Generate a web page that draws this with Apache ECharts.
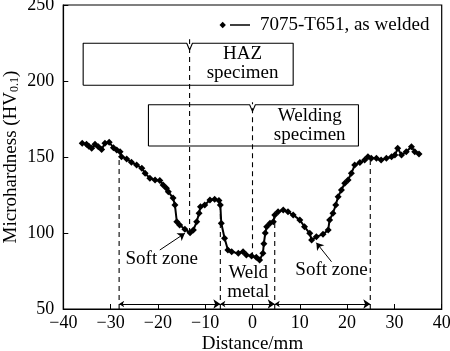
<!DOCTYPE html>
<html><head><meta charset="utf-8">
<script src="https://cdn.jsdelivr.net/npm/echarts@6/dist/echarts.min.js"></script>
<style>html,body{margin:0;padding:0;background:#fff}#c{width:450px;height:351px}</style>
</head><body><div id="c"></div>
<script>
// ---- data ----
const distance = [-36.0,-35.1,-34.6,-34.0,-33.3,-32.6,-31.9,-31.2,-30.3,-29.4,-28.7,-28.0,-27.7,-26.6,-25.6,-24.5,-23.4,-22.7,-21.7,-20.6,-19.6,-18.9,-18.2,-17.8,-16.8,-16.4,-16.0,-15.4,-14.3,-13.2,-12.5,-11.8,-11.3,-11.0,-10.1,-9.0,-8.0,-7.1,-6.8,-6.6,-5.9,-5.2,-4.4,-3.0,-2.0,-1.3,-0.2,0.8,1.5,2.2,2.4,2.7,3.0,3.7,4.4,4.7,5.4,6.5,7.5,8.6,10.0,11.0,12.1,12.5,13.5,14.9,16.0,16.3,17.0,17.6,18.1,18.8,19.5,20.2,20.9,21.6,22.7,23.7,24.4,25.1,26.2,27.2,28.3,29.4,30.1,30.7,31.5,32.5,33.6,34.3,35.2];
const hardness = [159,158.4,157,155.7,158.4,156.8,155,159,159.7,156.1,154.6,153.5,150.2,148.7,146.5,144.7,142.6,139.3,136,134.9,134.5,131.6,129.4,127.2,123,118.4,107.4,105.3,102.4,100.2,102,107.4,113,117.3,118.4,121.7,122.2,121.3,118.4,106.4,96.5,88.8,87.7,86.6,87.7,85.5,84.9,84.0,82.2,86.6,93,100,104.1,106.4,107.4,111.8,114,115.1,114,111.8,108.6,104.1,99.8,95.4,97.6,99.1,102,108.6,113,118.4,123.9,128.3,132.7,134.9,139.3,144.7,146.3,148,150.2,149.1,149.1,148,149.1,150.2,151.3,155.7,151.3,153.5,156.8,153.5,152];
const xTicks = [-40,-30,-20,-10,0,10,20,30,40];
const yTicks = [50,100,150,200,250];
const seriesName = '7075-T651, as welded';

// zone boundaries (mm) and annotation anchors (data units)
const zoneX = [-28.2, -6.8, 4.7, 24.9];
const zoneTopY = [150, 118, 110, 149];
const specLines = [[-13.3, 100, 227.4], [0, 84, 186]];
const hazBox = [-35.8, 8.6, 197.2, 224.8];
const weldBox = [-22.0, 22.4, 157.2, 184.4];
const labels = [
  ['HAZ', -2.1, 217.6], ['specimen', -2.1, 205.5],
  ['Welding', 12.1, 177], ['specimen', 12.1, 164.5],
  ['Soft zone', -19.2, 82.7], ['Soft zone', 16.7, 75.7],
  ['Weld', -0.9, 73.5], ['metal', -0.9, 61]
];
const arrowY = 53.3;
const softArrows = [[[-19.6, 88.8], [-14.3, 99.8]], [[16.7, 81.1], [13.5, 93.6]]];

const FONT = 'Liberation Serif';
const BLACK = '#000';

function boxPts(b, nx) {
  const [x1, x2, y1, y2] = b;
  return [[x1,y1],[x1,y2],[nx-0.6,y2],[nx,y2-4.4],[nx+0.6,y2],[x2,y2],[x2,y1],[x1,y1]];
}
function plainLine(data, dashed) {
  return {type:'line', data, symbol:'none', silent:true, animation:false, z:1,
    lineStyle:{color:BLACK, width:1.1, type: dashed ? [5,4] : 'solid'}};
}

const series = [];
series.push({
  name: seriesName, type:'line', data: distance.map((d,i)=>[d, hardness[i]]),
  symbol:'diamond', symbolSize:7, showSymbol:true, animation:false, z:5,
  lineStyle:{color:BLACK, width:2}, itemStyle:{color:BLACK}
});
zoneX.forEach((x,i)=>series.push(plainLine([[x,50],[x,zoneTopY[i]]], true)));
specLines.forEach(s=>series.push(plainLine([[s[0],s[1]],[s[0],s[2]]], true)));
series.push(plainLine(boxPts(hazBox, specLines[0][0]), false));
series.push(plainLine(boxPts(weldBox, specLines[1][0]), false));
series.push({
  type:'lines', coordinateSystem:'cartesian2d', silent:true, animation:false,
  symbol:['arrow','arrow'], symbolSize:[5,7],
  lineStyle:{color:BLACK, width:1, opacity:1},
  data: [[zoneX[0],zoneX[1]],[zoneX[1],zoneX[2]],[zoneX[2],zoneX[3]]].map(p=>({coords:[[p[0],arrowY],[p[1],arrowY]]}))
});
series.push({
  type:'lines', coordinateSystem:'cartesian2d', silent:true, animation:false,
  symbol:['none','arrow'], symbolSize:[5,7],
  lineStyle:{color:BLACK, width:1, opacity:1},
  data: softArrows.map(a=>({coords:a}))
});
series.push({
  type:'scatter', symbolSize:0, silent:true, animation:false, z:6,
  itemStyle:{opacity:1, color:BLACK},
  data: labels.map(l=>({name:l[0], value:[l[1], l[2]]})),
  label:{show:true, position:'inside', formatter:p=>p.name, color:BLACK, opacity:1, fontFamily:FONT, fontSize:19, textBorderWidth:0}
});

const chart = echarts.init(document.getElementById('c'), null, {renderer:'canvas'});
chart.setOption({
  backgroundColor:'#fff',
  animation:false,
  grid:{left:63.3, right:8.3, top:5, bottom:42, show:true, borderColor:BLACK, borderWidth:1.2, backgroundColor:'transparent', containLabel:false, outerBoundsMode:'none'},
  graphic:[
    {type:'polygon', shape:{points:[[219.5,25],[222.7,21.8],[225.9,25],[222.7,28.2]]}, style:{fill:BLACK}, silent:true},
    {type:'line', shape:{x1:230, y1:25, x2:250, y2:25}, style:{stroke:BLACK, lineWidth:1.5}, silent:true},
    {type:'text', x:260, y:25, style:{text:seriesName, fill:BLACK, font:'19px "Liberation Serif"', textVerticalAlign:'middle', verticalAlign:'middle'}, silent:true}
  ],
  xAxis:{
    type:'value', min:xTicks[0], max:xTicks[xTicks.length-1], interval:xTicks[1]-xTicks[0],
    name:'Distance/mm', nameLocation:'middle', nameGap:26, nameMoveOverlap:false,
    nameTextStyle:{color:BLACK, fontFamily:FONT, fontSize:19},
    axisLine:{onZero:false, lineStyle:{color:BLACK, width:1.2}},
    axisTick:{inside:true, length:5, lineStyle:{color:BLACK}},
    axisLabel:{color:BLACK, fontFamily:FONT, fontSize:18, margin:5, formatter:v=>String(v).replace('-','\u2212')},
    splitLine:{show:false}
  },
  yAxis:{
    type:'value', min:yTicks[0], max:yTicks[yTicks.length-1], interval:yTicks[1]-yTicks[0],
    name:'{a|Microhardness (HV}{b|0.1}{a|)}', nameLocation:'middle', nameGap:42, nameMoveOverlap:false,
    nameTextStyle:{color:BLACK, fontFamily:FONT, fontSize:19,
      rich:{a:{fontFamily:FONT, fontSize:19, color:BLACK}, b:{fontFamily:FONT, fontSize:12, color:BLACK, verticalAlign:'bottom', padding:[8,0,0,0]}}},
    axisLine:{onZero:false, lineStyle:{color:BLACK, width:1.2}},
    axisTick:{inside:true, length:5, lineStyle:{color:BLACK}},
    axisLabel:{color:BLACK, fontFamily:FONT, fontSize:18, margin:9},
    splitLine:{show:false}
  },
  series
});
</script></body></html>
